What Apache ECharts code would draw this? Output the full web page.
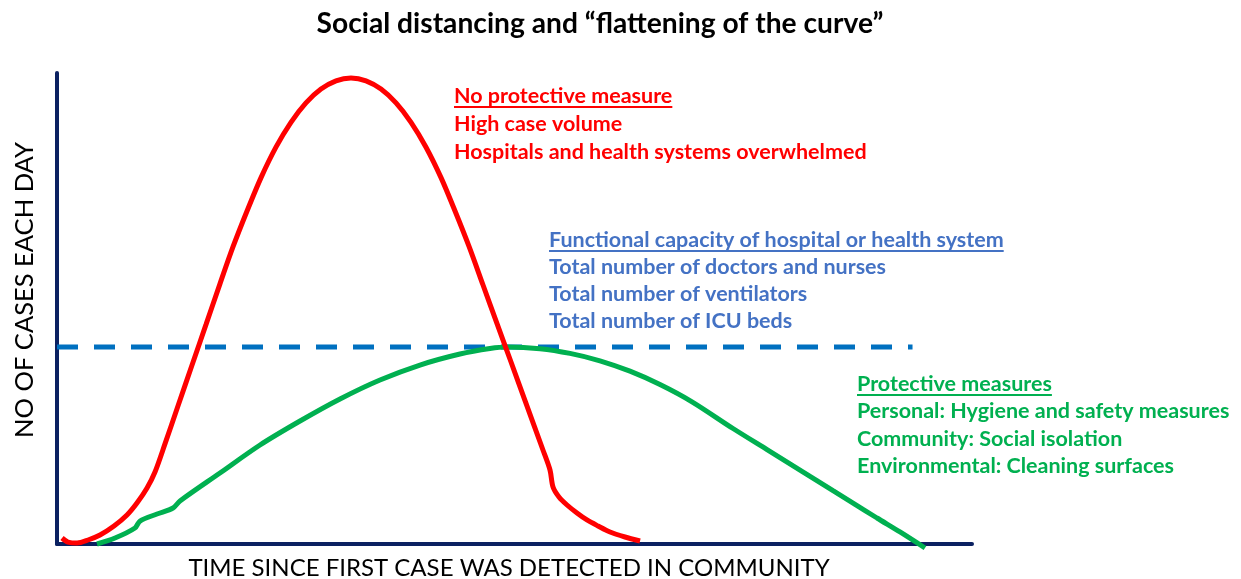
<!DOCTYPE html>
<html>
<head>
<meta charset="utf-8">
<script src="https://cdn.jsdelivr.net/npm/echarts@6/dist/echarts.min.js"></script>
<style>html,body{margin:0;padding:0;background:#fff}#c{width:1241px;height:579px}</style>
</head>
<body>
<div id="c"></div>
<script>
// Time since first case (0-100) and cases per day (0-100)
const noMeasureX = [0.55, 1.20, 2.19, 3.39, 4.70, 6.23, 7.65, 8.74, 9.84, 10.71, 11.80, 13.22, 14.75, 16.28, 17.81, 19.23, 20.77, 22.30, 23.93, 25.57, 27.21, 28.85, 30.49, 32.13, 33.77, 35.41, 37.05, 38.69, 40.33, 41.97, 43.50, 45.03, 46.56, 48.09, 49.62, 51.15, 53.11, 53.88, 54.21, 54.86, 55.74, 56.83, 57.92, 59.13, 60.44, 62.08, 63.72];
const noMeasureY = [1.27, 0.42, 0.21, 0.85, 1.91, 3.82, 6.16, 8.70, 11.89, 15.29, 21.25, 29.30, 37.94, 46.58, 55.24, 63.06, 70.70, 77.79, 84.25, 89.53, 93.65, 96.58, 98.34, 98.94, 98.34, 96.58, 93.65, 89.53, 84.25, 77.79, 70.70, 63.18, 54.99, 46.77, 38.64, 30.45, 19.96, 15.71, 12.10, 9.98, 8.28, 6.58, 5.10, 3.82, 2.55, 1.49, 0.64];
const protectX = [4.37, 6.34, 8.52, 9.07, 10.93, 12.68, 13.44, 17.81, 22.19, 26.56, 30.93, 35.30, 39.67, 44.04, 47.32, 49.18, 52.79, 56.07, 59.34, 62.62, 65.90, 69.40, 73.88, 77.60, 81.20, 84.81, 87.00, 89.62, 92.13, 94.86];
const protectY = [0.00, 1.27, 3.40, 4.88, 6.37, 7.64, 9.13, 15.07, 21.02, 26.11, 30.79, 34.82, 38.00, 40.34, 41.51, 41.83, 41.47, 40.47, 38.90, 36.69, 33.86, 30.19, 24.52, 20.04, 15.71, 11.34, 8.70, 5.52, 2.55, -0.85];
const capacityX = [0, 93.5];
const capacityY = [41.83, 41.83];

const titleText = 'Social distancing and \u201cflattening of the curve\u201d';
const xName = 'TIME SINCE FIRST CASE WAS DETECTED IN COMMUNITY';
const yName = 'NO OF CASES EACH DAY';
const redLines = ['No protective measure', 'High case volume', 'Hospitals and health systems overwhelmed'];
const blueLines = ['Functional capacity of hospital or health system', 'Total number of doctors and nurses', 'Total number of ventilators', 'Total number of ICU beds'];
const greenLines = ['Protective measures', 'Personal: Hygiene and safety measures', 'Community: Social isolation', 'Environmental: Cleaning surfaces'];

const zip = (a, b) => a.map((v, i) => [v, b[i]]);
const FONT = 'Lato, "Open Sans", sans-serif';
const ANN = 21.5;
const ctx = document.createElement('canvas').getContext('2d');
function textW(t, size, weight) { ctx.font = weight + ' ' + size + 'px Lato'; return ctx.measureText(t).width; }

function block(lines, left, top, step, color) {
  const els = [];
  lines.forEach((t, i) => {
    els.push({ type: 'text', left: left, top: top + i * step, style: { text: t, fill: color, font: 'bold ' + ANN + 'px ' + FONT } });
  });
  const w = textW(lines[0], ANN, 'bold');
  els.push({ type: 'line', shape: { x1: left, y1: top + 22, x2: left + w, y2: top + 22 }, style: { stroke: color, lineWidth: 1.8 } });
  return els;
}

const chart = echarts.init(document.getElementById('c'));
chart.setOption({
  animation: false,
  title: { text: titleText, left: 595, top: 5, textAlign: 'center', textStyle: { fontFamily: FONT, fontSize: 28.2, fontWeight: 'bold', color: '#000' } },
  grid: { left: 57, right: 269, top: 73, bottom: 35, containLabel: false, outerBoundsMode: 'none' },
  xAxis: { type: 'value', min: 0, max: 100, name: xName, nameLocation: 'middle', nameGap: 12,
    nameTextStyle: { fontFamily: FONT, fontSize: 24, color: '#000', padding: [0, 11, 0, 0] },
    axisLine: { show: true, lineStyle: { color: '#0b2161', width: 4 } }, axisTick: { show: false }, axisLabel: { show: false }, splitLine: { show: false } },
  yAxis: { type: 'value', min: 0, max: 100,
    axisLine: { show: true, lineStyle: { color: '#0b2161', width: 4 } }, axisTick: { show: false }, axisLabel: { show: false }, splitLine: { show: false } },
  series: [
    { type: 'line', data: zip(capacityX, capacityY), symbol: 'none', clip: false, lineStyle: { color: '#0070c0', width: 5, type: [21, 16] }, z: 1 },
    { type: 'line', data: zip(noMeasureX, noMeasureY), symbol: 'none', smooth: 0.3, clip: false, lineStyle: { color: '#ff0000', width: 5 }, z: 3 },
    { type: 'line', data: zip(protectX, protectY), symbol: 'none', smooth: 0.3, clip: false, lineStyle: { color: '#00b050', width: 5 }, z: 2 }
  ],
  graphic: [].concat(
    [{ type: 'text', x: 25, y: 290, rotation: Math.PI / 2, style: { text: yName, fill: '#000', font: '25.5px ' + FONT, align: 'center', verticalAlign: 'middle' } }],
    block(redLines, 454, 85, 28, '#ff0000'),
    block(blueLines, 549, 229, 27, '#4472c4'),
    block(greenLines, 857, 373, 27.5, '#00b050')
  )
});
</script>
</body>
</html>
